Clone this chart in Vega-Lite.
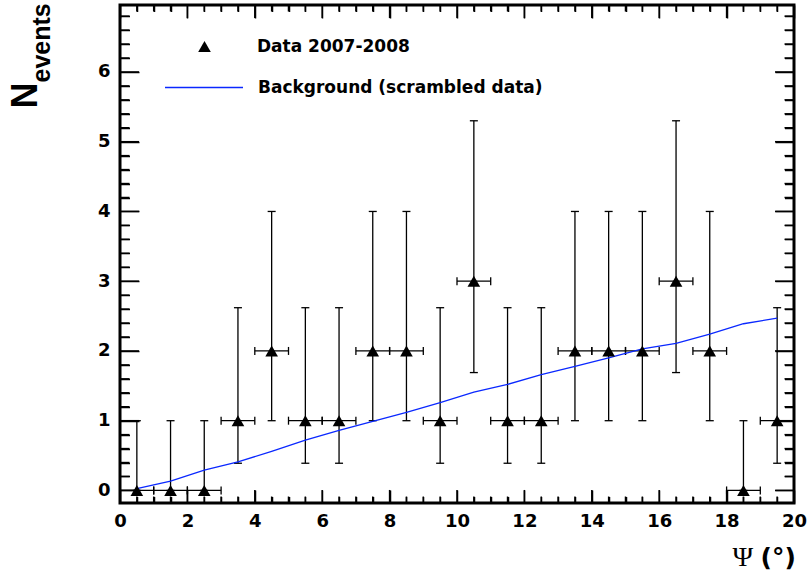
{
"$schema":"https://vega.github.io/schema/vega-lite/v6.json",
"width":674,"height":498,
"autosize":{"type":"none"},
"padding":{"left":120,"top":5,"right":14,"bottom":74},
"background":"white",
"config":{
 "view":{"stroke":"black","strokeWidth":3},
 "axis":{"domain":false,"grid":false,"zindex":2,"tickColor":"black","tickWidth":1.5,"tickOpacity":1,"labelFont":"DejaVu Sans","labelFontWeight":"bold","labelFontSize":18,"labelColor":"black","titleColor":"black","labelFlush":false,"labelOverlap":false}
},
"datasets":{
 "obs":[
  {"x":0.5,"xlo":0,"xhi":1,"n":0,"lo":0,"hi":1.0,"sample":"Data 2007-2008"},
  {"x":1.5,"xlo":1,"xhi":2,"n":0,"lo":0,"hi":1.0,"sample":"Data 2007-2008"},
  {"x":2.5,"xlo":2,"xhi":3,"n":0,"lo":0,"hi":1.0,"sample":"Data 2007-2008"},
  {"x":3.5,"xlo":3,"xhi":4,"n":1,"lo":0.39,"hi":2.62,"sample":"Data 2007-2008"},
  {"x":4.5,"xlo":4,"xhi":5,"n":2,"lo":1.0,"hi":4.0,"sample":"Data 2007-2008"},
  {"x":5.5,"xlo":5,"xhi":6,"n":1,"lo":0.39,"hi":2.62,"sample":"Data 2007-2008"},
  {"x":6.5,"xlo":6,"xhi":7,"n":1,"lo":0.39,"hi":2.62,"sample":"Data 2007-2008"},
  {"x":7.5,"xlo":7,"xhi":8,"n":2,"lo":1.0,"hi":4.0,"sample":"Data 2007-2008"},
  {"x":8.5,"xlo":8,"xhi":9,"n":2,"lo":1.0,"hi":4.0,"sample":"Data 2007-2008"},
  {"x":9.5,"xlo":9,"xhi":10,"n":1,"lo":0.39,"hi":2.62,"sample":"Data 2007-2008"},
  {"x":10.5,"xlo":10,"xhi":11,"n":3,"lo":1.69,"hi":5.3,"sample":"Data 2007-2008"},
  {"x":11.5,"xlo":11,"xhi":12,"n":1,"lo":0.39,"hi":2.62,"sample":"Data 2007-2008"},
  {"x":12.5,"xlo":12,"xhi":13,"n":1,"lo":0.39,"hi":2.62,"sample":"Data 2007-2008"},
  {"x":13.5,"xlo":13,"xhi":14,"n":2,"lo":1.0,"hi":4.0,"sample":"Data 2007-2008"},
  {"x":14.5,"xlo":14,"xhi":15,"n":2,"lo":1.0,"hi":4.0,"sample":"Data 2007-2008"},
  {"x":15.5,"xlo":15,"xhi":16,"n":2,"lo":1.0,"hi":4.0,"sample":"Data 2007-2008"},
  {"x":16.5,"xlo":16,"xhi":17,"n":3,"lo":1.69,"hi":5.3,"sample":"Data 2007-2008"},
  {"x":17.5,"xlo":17,"xhi":18,"n":2,"lo":1.0,"hi":4.0,"sample":"Data 2007-2008"},
  {"x":18.5,"xlo":18,"xhi":19,"n":0,"lo":0,"hi":1.0,"sample":"Data 2007-2008"},
  {"x":19.5,"xlo":19,"xhi":20,"n":1,"lo":0.39,"hi":2.62,"sample":"Data 2007-2008"}
 ],
 "bkg":[
  {"x":0.5,"b":0.025,"model":"Background (scrambled data)"},
  {"x":1.5,"b":0.135,"model":"Background (scrambled data)"},
  {"x":2.5,"b":0.29,"model":"Background (scrambled data)"},
  {"x":3.5,"b":0.41,"model":"Background (scrambled data)"},
  {"x":4.5,"b":0.56,"model":"Background (scrambled data)"},
  {"x":5.5,"b":0.72,"model":"Background (scrambled data)"},
  {"x":6.5,"b":0.86,"model":"Background (scrambled data)"},
  {"x":7.5,"b":0.99,"model":"Background (scrambled data)"},
  {"x":8.5,"b":1.12,"model":"Background (scrambled data)"},
  {"x":9.5,"b":1.26,"model":"Background (scrambled data)"},
  {"x":10.5,"b":1.41,"model":"Background (scrambled data)"},
  {"x":11.5,"b":1.52,"model":"Background (scrambled data)"},
  {"x":12.5,"b":1.66,"model":"Background (scrambled data)"},
  {"x":13.5,"b":1.78,"model":"Background (scrambled data)"},
  {"x":14.5,"b":1.90,"model":"Background (scrambled data)"},
  {"x":15.5,"b":2.03,"model":"Background (scrambled data)"},
  {"x":16.5,"b":2.11,"model":"Background (scrambled data)"},
  {"x":17.5,"b":2.24,"model":"Background (scrambled data)"},
  {"x":18.5,"b":2.39,"model":"Background (scrambled data)"},
  {"x":19.5,"b":2.47,"model":"Background (scrambled data)"}
 ],
 "xmaj":[{"t":0},{"t":2},{"t":4},{"t":6},{"t":8},{"t":10},{"t":12},{"t":14},{"t":16},{"t":18},{"t":20}],
 "xmin":[{"t":0.5},{"t":1},{"t":1.5},{"t":2.5},{"t":3},{"t":3.5},{"t":4.5},{"t":5},{"t":5.5},{"t":6.5},{"t":7},{"t":7.5},{"t":8.5},{"t":9},{"t":9.5},{"t":10.5},{"t":11},{"t":11.5},{"t":12.5},{"t":13},{"t":13.5},{"t":14.5},{"t":15},{"t":15.5},{"t":16.5},{"t":17},{"t":17.5},{"t":18.5},{"t":19},{"t":19.5}],
 "ymaj":[{"t":0},{"t":1},{"t":2},{"t":3},{"t":4},{"t":5},{"t":6}],
 "ymin":[{"t":0.2},{"t":0.4},{"t":0.6},{"t":0.8},{"t":1.2},{"t":1.4},{"t":1.6},{"t":1.8},{"t":2.2},{"t":2.4},{"t":2.6},{"t":2.8},{"t":3.2},{"t":3.4},{"t":3.6},{"t":3.8},{"t":4.2},{"t":4.4},{"t":4.6},{"t":4.8},{"t":5.2},{"t":5.4},{"t":5.6},{"t":5.8},{"t":6.2},{"t":6.4},{"t":6.6},{"t":6.8}]
},
"resolve":{"scale":{"x":"shared","y":"shared"},"axis":{"x":"independent","y":"independent"}},
"layer":[
 {"data":{"name":"obs"},
  "mark":{"type":"rule","color":"#000000","strokeWidth":1.3},
  "encoding":{
   "x":{"field":"xlo","type":"quantitative","scale":{"domain":[0,20],"nice":false,"zero":false},
        "axis":{"orient":"bottom","values":[0,2,4,6,8,10,12,14,16,18,20],"offset":-13,"tickSize":13,"labelPadding":9,
                "title":"Ψ","titleFont":"Liberation Serif","titleFontSize":28,"titleFontWeight":"normal","titleX":612,"titleY":75,"titleAlign":"left","titleBaseline":"alphabetic"}},
   "x2":{"field":"xhi"},
   "y":{"field":"n","type":"quantitative","scale":{"domain":[-0.18,6.96],"nice":false,"zero":false},
        "axis":{"orient":"left","values":[0,1,2,3,4,5,6],"offset":-19,"tickSize":19,"labelPadding":10,
                "title":"N","titleFont":"Liberation Sans","titleFontSize":36,"titleFontWeight":"bold","titleAngle":270,"titleX":-102.5,"titleY":103,"titleAlign":"left","titleBaseline":"alphabetic"}}
  }},
 {"data":{"name":"obs"},
  "mark":{"type":"rule","color":"#000000","strokeWidth":1.3},
  "encoding":{
   "x":{"field":"x","type":"quantitative","scale":{"domain":[0,20],"nice":false,"zero":false},
        "axis":{"orient":"bottom","values":[0.5,1,1.5,2.5,3,3.5,4.5,5,5.5,6.5,7,7.5,8.5,9,9.5,10.5,11,11.5,12.5,13,13.5,14.5,15,15.5,16.5,17,17.5,18.5,19,19.5],"offset":-6.5,"tickSize":6.5,"labels":false,
                "title":"(°)","titleFont":"DejaVu Sans","titleFontSize":25,"titleFontWeight":"bold","titleX":640,"titleY":68.5,"titleAlign":"left","titleBaseline":"alphabetic"}},
   "y":{"field":"lo","type":"quantitative","scale":{"domain":[-0.18,6.96],"nice":false,"zero":false},
        "axis":{"orient":"left","values":[0.2,0.4,0.6,0.8,1.2,1.4,1.6,1.8,2.2,2.4,2.6,2.8,3.2,3.4,3.6,3.8,4.2,4.4,4.6,4.8,5.2,5.4,5.6,5.8,6.2,6.4,6.6,6.8],"offset":-9.5,"tickSize":9.5,"labels":false,
                "title":"events","titleFont":"Liberation Sans","titleFontSize":25,"titleFontWeight":"bold","titleAngle":270,"titleX":-80,"titleY":77,"titleAlign":"left","titleBaseline":"alphabetic"}},
   "y2":{"field":"hi"}
  }},
 {"data":{"name":"obs"},
  "mark":{"type":"tick","orient":"horizontal","size":8,"thickness":1.3,"color":"#000000","opacity":1},
  "encoding":{
   "x":{"field":"x","type":"quantitative","scale":{"domain":[0,20],"nice":false,"zero":false},
        "axis":{"orient":"top","values":[0,2,4,6,8,10,12,14,16,18,20],"offset":-13,"tickSize":13,"labels":false,"title":null}},
   "y":{"field":"hi","type":"quantitative","scale":{"domain":[-0.18,6.96],"nice":false,"zero":false},
        "axis":{"orient":"right","values":[0,1,2,3,4,5,6],"offset":-19,"tickSize":19,"labels":false,"title":null}}
  }},
 {"data":{"name":"obs"},
  "mark":{"type":"tick","orient":"horizontal","size":8,"thickness":1.3,"color":"#000000","opacity":1},
  "encoding":{
   "x":{"field":"x","type":"quantitative","scale":{"domain":[0,20],"nice":false,"zero":false},
        "axis":{"orient":"top","values":[0.5,1,1.5,2.5,3,3.5,4.5,5,5.5,6.5,7,7.5,8.5,9,9.5,10.5,11,11.5,12.5,13,13.5,14.5,15,15.5,16.5,17,17.5,18.5,19,19.5],"offset":-6.5,"tickSize":6.5,"labels":false,"title":null}},
   "y":{"field":"lo","type":"quantitative","scale":{"domain":[-0.18,6.96],"nice":false,"zero":false},
        "axis":{"orient":"right","values":[0.2,0.4,0.6,0.8,1.2,1.4,1.6,1.8,2.2,2.4,2.6,2.8,3.2,3.4,3.6,3.8,4.2,4.4,4.6,4.8,5.2,5.4,5.6,5.8,6.2,6.4,6.6,6.8],"offset":-9.5,"tickSize":9.5,"labels":false,"title":null}}
  }},
 {"data":{"name":"obs"},
  "mark":{"type":"tick","orient":"vertical","size":8,"thickness":1.3,"color":"#000000","opacity":1},
  "encoding":{
   "x":{"field":"xlo","type":"quantitative","scale":{"domain":[0,20],"nice":false,"zero":false},"axis":null},
   "y":{"field":"n","type":"quantitative","scale":{"domain":[-0.18,6.96],"nice":false,"zero":false},"axis":null}
  }},
 {"data":{"name":"obs"},
  "mark":{"type":"tick","orient":"vertical","size":8,"thickness":1.3,"color":"#000000","opacity":1},
  "encoding":{
   "x":{"field":"xhi","type":"quantitative","scale":{"domain":[0,20],"nice":false,"zero":false},"axis":null},
   "y":{"field":"n","type":"quantitative","scale":{"domain":[-0.18,6.96],"nice":false,"zero":false},"axis":null}
  }},
 {"data":{"name":"bkg"},
  "mark":{"type":"line","strokeWidth":1.3},
  "encoding":{
   "x":{"field":"x","type":"quantitative","scale":{"domain":[0,20],"nice":false,"zero":false},"axis":null},
   "y":{"field":"b","type":"quantitative","scale":{"domain":[-0.18,6.96],"nice":false,"zero":false},"axis":null},
   "color":{"field":"model","type":"nominal","scale":{"domain":["Background (scrambled data)"],"range":["#0a28ff"]},
     "legend":{"orient":"none","legendX":44,"legendY":42.5,"title":null,"padding":0,"symbolType":"stroke","symbolSize":6084,"symbolStrokeWidth":1.3,
               "labelFont":"DejaVu Sans","labelFontWeight":"bold","labelFontSize":17,"labelColor":"black","labelOffset":14,"labelLimit":0}}
  }},
 {"data":{"name":"obs"},
  "mark":{"type":"point","filled":true,"size":160,"opacity":1,"color":"black"},
  "encoding":{
   "x":{"field":"x","type":"quantitative","scale":{"domain":[0,20],"nice":false,"zero":false},"axis":null},
   "y":{"field":"n","type":"quantitative","scale":{"domain":[-0.18,6.96],"nice":false,"zero":false},"axis":null},
   "shape":{"field":"sample","type":"nominal","scale":{"domain":["Data 2007-2008"],"range":["triangle-up"]},
     "legend":{"orient":"none","legendX":76,"legendY":33,"title":null,"padding":0,"symbolSize":160,"symbolFillColor":"black","symbolStrokeColor":"black","symbolStrokeWidth":0,
               "labelFont":"DejaVu Sans","labelFontWeight":"bold","labelFontSize":17,"labelColor":"black","labelOffset":44,"labelLimit":0}}
  }},
 {"data":{"name":"xmaj"},"mark":{"type":"rule","color":"black","strokeWidth":1.5},
  "encoding":{"x":{"field":"t","type":"quantitative","scale":{"domain":[0,20],"nice":false,"zero":false},"axis":null},
              "y":{"datum":-0.18,"type":"quantitative","scale":{"domain":[-0.18,6.96],"nice":false,"zero":false},"axis":null},
              "y2":{"datum":0.007}}},
 {"data":{"name":"xmaj"},"mark":{"type":"rule","color":"black","strokeWidth":1.5},
  "encoding":{"x":{"field":"t","type":"quantitative","scale":{"domain":[0,20],"nice":false,"zero":false},"axis":null},
              "y":{"datum":6.96,"type":"quantitative","scale":{"domain":[-0.18,6.96],"nice":false,"zero":false},"axis":null},
              "y2":{"datum":6.773}}},
 {"data":{"name":"xmin"},"mark":{"type":"rule","color":"black","strokeWidth":1.5},
  "encoding":{"x":{"field":"t","type":"quantitative","scale":{"domain":[0,20],"nice":false,"zero":false},"axis":null},
              "y":{"datum":-0.18,"type":"quantitative","scale":{"domain":[-0.18,6.96],"nice":false,"zero":false},"axis":null},
              "y2":{"datum":-0.087}}},
 {"data":{"name":"xmin"},"mark":{"type":"rule","color":"black","strokeWidth":1.5},
  "encoding":{"x":{"field":"t","type":"quantitative","scale":{"domain":[0,20],"nice":false,"zero":false},"axis":null},
              "y":{"datum":6.96,"type":"quantitative","scale":{"domain":[-0.18,6.96],"nice":false,"zero":false},"axis":null},
              "y2":{"datum":6.867}}},
 {"data":{"name":"ymaj"},"mark":{"type":"rule","color":"black","strokeWidth":1.5},
  "encoding":{"y":{"field":"t","type":"quantitative","scale":{"domain":[-0.18,6.96],"nice":false,"zero":false},"axis":null},
              "x":{"datum":0,"type":"quantitative","scale":{"domain":[0,20],"nice":false,"zero":false},"axis":null},
              "x2":{"datum":0.564}}},
 {"data":{"name":"ymaj"},"mark":{"type":"rule","color":"black","strokeWidth":1.5},
  "encoding":{"y":{"field":"t","type":"quantitative","scale":{"domain":[-0.18,6.96],"nice":false,"zero":false},"axis":null},
              "x":{"datum":20,"type":"quantitative","scale":{"domain":[0,20],"nice":false,"zero":false},"axis":null},
              "x2":{"datum":19.436}}},
 {"data":{"name":"ymin"},"mark":{"type":"rule","color":"black","strokeWidth":1.5},
  "encoding":{"y":{"field":"t","type":"quantitative","scale":{"domain":[-0.18,6.96],"nice":false,"zero":false},"axis":null},
              "x":{"datum":0,"type":"quantitative","scale":{"domain":[0,20],"nice":false,"zero":false},"axis":null},
              "x2":{"datum":0.282}}},
 {"data":{"name":"ymin"},"mark":{"type":"rule","color":"black","strokeWidth":1.5},
  "encoding":{"y":{"field":"t","type":"quantitative","scale":{"domain":[-0.18,6.96],"nice":false,"zero":false},"axis":null},
              "x":{"datum":20,"type":"quantitative","scale":{"domain":[0,20],"nice":false,"zero":false},"axis":null},
              "x2":{"datum":19.718}}}
]
}
